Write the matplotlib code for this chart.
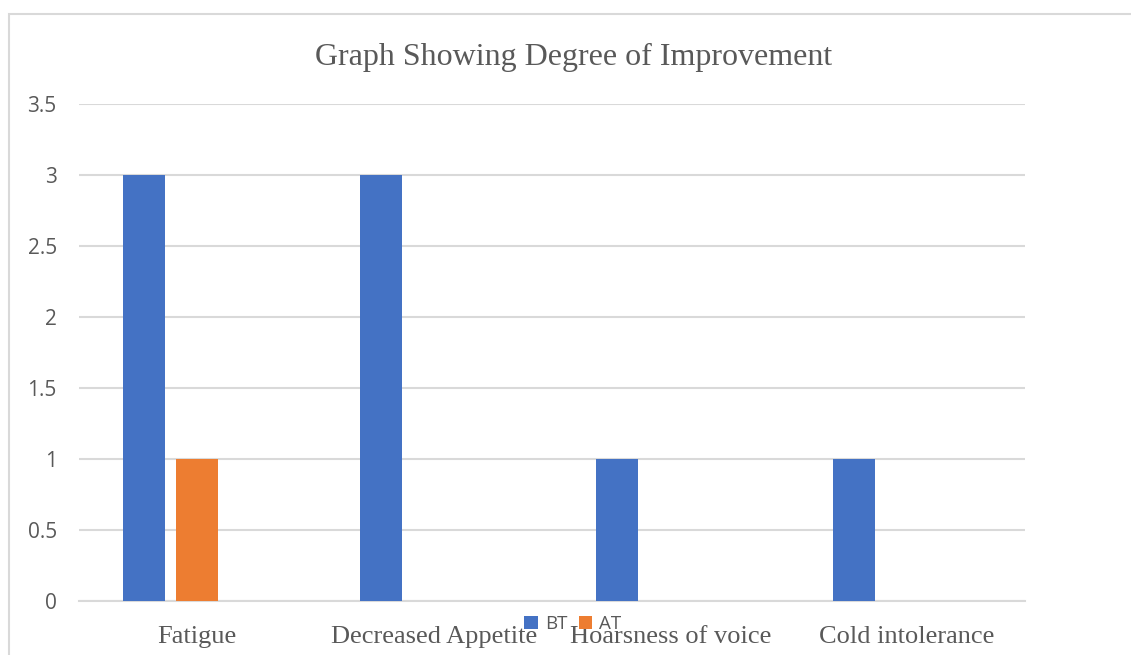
import numpy as np
import matplotlib.pyplot as plt
from matplotlib.patches import Rectangle

# data
categories = ["Fatigue", "Decreased Appetite", "Hoarsness of voice", "Cold intolerance"]
bt_values = [3, 3, 1, 1]
at_values = [1, 0, 0, 0]
y_ticks = [0, 0.5, 1, 1.5, 2, 2.5, 3, 3.5]
y_tick_labels = ["0", "0.5", "1", "1.5", "2", "2.5", "3", "3.5"]

blue = "#4472C4"
orange = "#ED7D31"
text_gray = "#595959"
grid_gray = "#D9D9D9"

fig = plt.figure(figsize=(11.31, 6.55), dpi=100)

# outer chart border (partly cut off, like the screenshot)
fig.patches.append(Rectangle((9 / 1131, -0.1), 1.2, 1 - 14 / 655 + 0.1,
                             transform=fig.transFigure, fill=False,
                             edgecolor=grid_gray, linewidth=1.5))

ax = fig.add_axes([79 / 1131, 1 - 601 / 655, (1025 - 79) / 1131, (601 - 104) / 655])

x = np.arange(len(categories))
width = 0.178
step = 0.224
ax.bar(x - step, bt_values, width, color=blue, label="BT", zorder=3)
ax.bar(x, at_values, width, color=orange, label="AT", zorder=3)

ax.set_xlim(-0.5, len(categories) - 0.5)
ax.set_ylim(0, 3.5)
ax.set_yticks(y_ticks)
ax.set_yticklabels(y_tick_labels, fontfamily="Open Sans", fontsize=15, color=text_gray)
ax.set_xticks(x)
ax.set_xticklabels(categories, fontfamily="Liberation Serif", fontsize=19, color=text_gray)
ax.tick_params(axis="both", length=0)
ax.tick_params(axis="y", pad=16)
ax.tick_params(axis="x", pad=18)

ax.grid(axis="y", color=grid_gray, linewidth=1.5, zorder=0)
for side in ["top", "right", "left"]:
    ax.spines[side].set_visible(False)
ax.spines["bottom"].set_color(grid_gray)
ax.spines["bottom"].set_linewidth(1.5)

fig.text(574 / 1131, 1 - 57 / 655, "Graph Showing Degree of Improvement",
         fontfamily="Liberation Serif", fontsize=23, color=text_gray,
         ha="center", va="center")

ax.legend(loc="center", bbox_to_anchor=(573 / 1131, 1 - 624 / 655),
          bbox_transform=fig.transFigure, ncol=2, frameon=False,
          prop={"family": "Open Sans", "size": 13.5}, labelcolor=text_gray,
          handlelength=0.7, handleheight=0.7, handletextpad=0.4, columnspacing=0.6)

plt.savefig("out.png", dpi=100)
